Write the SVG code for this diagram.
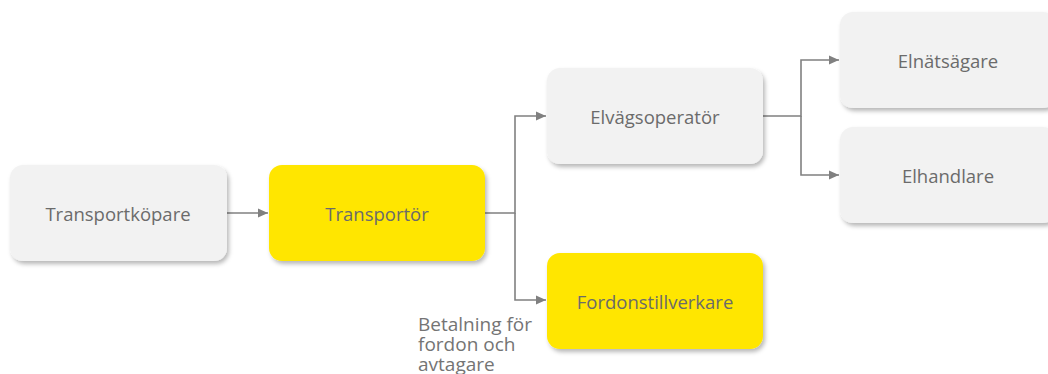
<svg xmlns="http://www.w3.org/2000/svg" width="1048" height="374" viewBox="0 0 1048 374">
  <style>
    .box { stroke: none; filter: url(#shadow); }
    .grey { fill: #f2f2f2; }
    .yellow { fill: #ffe600; }
    .label { font-family: "Open Sans", "Liberation Sans", sans-serif; font-size: 18.5px; fill: #6b6b6b; text-anchor: middle; dominant-baseline: central; }
    .note { font-family: "Open Sans", "Liberation Sans", sans-serif; font-size: 19px; fill: #747474; }
    .conn { fill: none; stroke: #808080; stroke-width: 1.6; marker-end: url(#arrow); }
  </style>
  <defs>
    <filter id="shadow" x="-10%" y="-10%" width="125%" height="135%">
      <feDropShadow dx="2" dy="3" stdDeviation="2" flood-color="#000" flood-opacity="0.28"/>
    </filter>
    <marker id="arrow" viewBox="0 0 10 10" refX="10" refY="5" markerWidth="10" markerHeight="10" markerUnits="userSpaceOnUse" orient="auto">
      <path d="M0,0.5 L10,5 L0,9.5 z" fill="#808080"/>
    </marker>
  </defs>

  <!-- connectors -->
  <g id="connectors">
    <path class="conn" d="M227,213 H268"/>
    <path class="conn" d="M485,213 H515 V116 H546"/>
    <path class="conn" d="M515,213 V300 H546"/>
    <path class="conn" d="M763,116 H801 V60 H839"/>
    <path class="conn" d="M801,116 V175 H839"/>
  </g>

  <g id="transportkopare">
    <rect class="box grey" x="10" y="165" width="217" height="96" rx="13"/>
    <text class="label" x="118" y="213">Transportköpare</text>
  </g>

  <g id="transportor">
    <rect class="box yellow" x="269" y="165" width="216" height="96" rx="13"/>
    <text class="label" x="377" y="213">Transportör</text>
  </g>

  <g id="elvagsoperator">
    <rect class="box grey" x="547" y="68" width="216" height="96" rx="13"/>
    <text class="label" x="655" y="116">Elvägsoperatör</text>
  </g>

  <g id="fordonstillverkare">
    <rect class="box yellow" x="547" y="253" width="216" height="96" rx="13"/>
    <text class="label" x="655" y="301">Fordonstillverkare</text>
  </g>

  <g id="elnatsagare">
    <rect class="box grey" x="840" y="12" width="216" height="96" rx="13"/>
    <text class="label" x="948" y="60">Elnätsägare</text>
  </g>

  <g id="elhandlare">
    <rect class="box grey" x="840" y="127" width="216" height="96" rx="13"/>
    <text class="label" x="948" y="175">Elhandlare</text>
  </g>

  <g id="payment-note">
    <text class="note" x="418" y="331">Betalning för</text>
    <text class="note" x="418" y="351">fordon och</text>
    <text class="note" x="418" y="371">avtagare</text>
  </g>
</svg>
